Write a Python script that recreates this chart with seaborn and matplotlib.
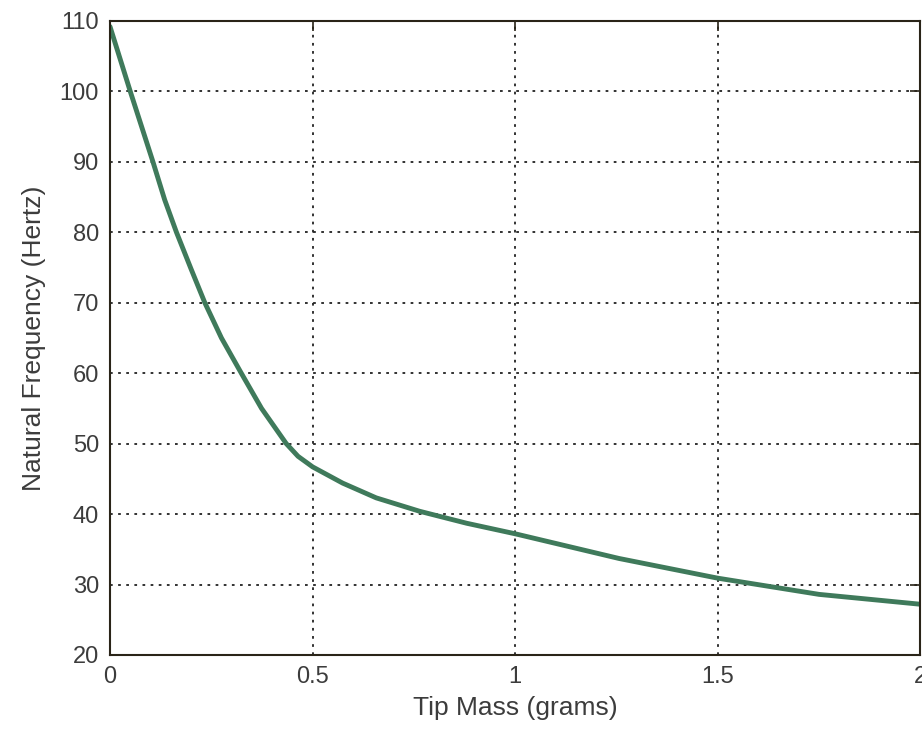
import matplotlib
matplotlib.use("Agg")
import matplotlib.pyplot as plt
import pandas as pd
import seaborn as sns

# values
tip_mass = [0.0, 0.05, 0.106, 0.135, 0.164, 0.2, 0.234, 0.275, 0.324, 0.374,
            0.435, 0.464, 0.5, 0.574, 0.657, 0.764, 0.88, 1.0, 1.256, 1.5,
            1.75, 2.0]
frequency = [109.2, 100.0, 90.0, 84.6, 80.0, 74.8, 70.0, 65.0, 60.0, 55.0,
             50.0, 48.2, 46.7, 44.4, 42.3, 40.4, 38.7, 37.2, 33.7, 30.9,
             28.6, 27.2]

x_ticks = [0, 0.5, 1, 1.5, 2]
x_labels = ["0", "0.5", "1", "1.5", "2"]
y_ticks = [20, 30, 40, 50, 60, 70, 80, 90, 100, 110]

df = pd.DataFrame({"mass": tip_mass, "freq": frequency})

sns.set_style("white")
plt.rcParams["font.family"] = ["Liberation Sans", "DejaVu Sans"]

text_color = "#3c3c3c"
fig = plt.figure(figsize=(9.22, 7.39), dpi=100)
ax = fig.add_axes([0.1193, 0.1137, 0.879, 0.858])

sns.lineplot(data=df, x="mass", y="freq", ax=ax, color="#3f7a5b", linewidth=3.5)

ax.set_xlim(0, 2)
ax.set_ylim(20, 110)
ax.set_xticks(x_ticks)
ax.set_xticklabels(x_labels)
ax.set_yticks(y_ticks)
ax.grid(True, color="#222222", linestyle=(0, (1.5, 3)), linewidth=1.3)
ax.tick_params(direction="in", length=7, width=1.2, color="#2a2418",
               top=True, right=True, labelsize=17, labelcolor=text_color, pad=8)
for s in ax.spines.values():
    s.set_color("#2a2418")
    s.set_linewidth(1.5)

ax.set_xlabel("Tip Mass (grams)", fontsize=19, color=text_color, labelpad=6)
ax.set_ylabel("Natural Frequency (Hertz)", fontsize=19, color=text_color, labelpad=10)

fig.savefig("out.png", dpi=100)
